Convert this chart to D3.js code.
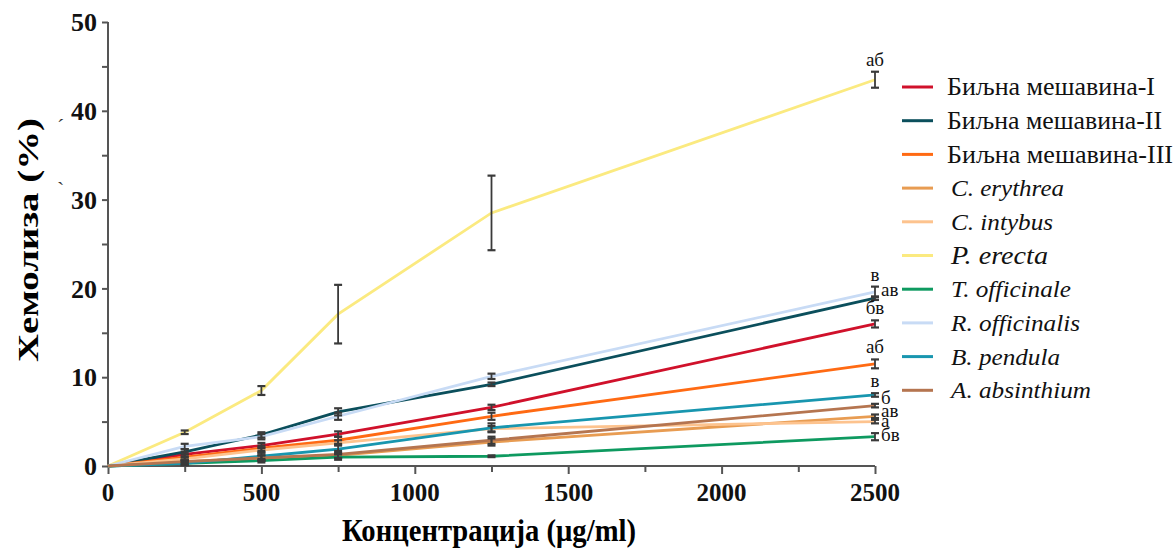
<!DOCTYPE html>
<html>
<head>
<meta charset="utf-8">
<script src="https://cdn.jsdelivr.net/npm/d3@7"></script>
<style>
  body { margin: 0; background: #fff; }
  svg text { font-family: "Liberation Serif", "DejaVu Serif", serif; }
  .axis path, .axis line { stroke: #555; stroke-width: 2; }
  .tickLbl { font-weight: bold; fill: #111; }
</style>
</head>
<body>
<script>
//concentrations and hemolysis values
var conc = [0, 250, 500, 750, 1250, 2500];

var seriesNames = ["Биљна мешавина-I", "Биљна мешавина-II", "Биљна мешавина-III",
	"C. erythrea", "C. intybus", "P. erecta", "T. officinale",
	"R. officinalis", "B. pendula", "A. absinthium"];

var mixI      = [0, 1.3, 2.3, 3.6, 6.6, 16.0];
var mixII     = [0, 1.6, 3.5, 6.1, 9.2, 18.9];
var mixIII    = [0, 1.0, 2.0, 2.9, 5.6, 11.5];
var erythrea  = [0, 0.5, 0.9, 1.2, 2.7, 5.6];
var intybus   = [0, 0.8, 1.8, 2.6, 4.2, 5.0];
var erecta    = [0, 3.8, 8.5, 17.1, 28.5, 43.5];
var officinale = [0, 0.3, 0.6, 1.0, 1.1, 3.3];
var officinalis = [0, 2.2, 3.3, 5.6, 10.1, 19.6];
var pendula   = [0, 0.3, 1.1, 1.9, 4.3, 8.0];
var absinthium = [0, 0.5, 0.9, 1.3, 2.9, 6.8];

//standard deviations (error bars)
var errMixI      = [0, 0.3, 0.3, 0.3, 0.3, 0.4];
var errMixII     = [0, 0.3, 0.3, 0.4, 0.2, 0.2];
var errMixIII    = [0, 0.3, 0.3, 0.4, 0.4, 0.5];
var errErythrea  = [0, 0.2, 0.3, 0.3, 0.4, 0.2];
var errIntybus   = [0, 0.2, 0.3, 0.3, 0.3, 0.2];
var errErecta    = [0, 0.2, 0.5, 3.3, 4.2, 0.9];
var errOfficinale = [0, 0.2, 0.2, 0.3, 0.1, 0.4];
var errOfficinalis = [0, 0.3, 0.3, 0.4, 0.3, 0.6];
var errPendula   = [0, 0.2, 0.4, 0.5, 0.5, 0.2];
var errAbsinthium = [0, 0.2, 0.3, 0.4, 0.4, 0.2];

//significance letters at 2500
var letters = ["бв", "ав", "аб", "ав", "а", "аб", "бв", "в", "в", "б"];

var colors = ["#d0112b", "#0b4f5c", "#ff6a13", "#e89c52", "#fdc38e",
	"#fbea80", "#0e9a60", "#c8dbf5", "#1896af", "#b57550"];

var yTicks = [0, 10, 20, 30, 40, 50];
var xTicks = [0, 500, 1000, 1500, 2000, 2500];

var values = [mixI, mixII, mixIII, erythrea, intybus, erecta, officinale, officinalis, pendula, absinthium];
var errors = [errMixI, errMixII, errMixIII, errErythrea, errIntybus, errErecta, errOfficinale, errOfficinalis, errPendula, errAbsinthium];

//layout bits: where each letter sits, nudges, how wide each legend text is drawn
var letterSide = ["top", "right", "top", "right", "right", "top", "right", "top", "top", "right"];
var letterDy   = [0, -3, 0, 0, 4, 0, 3, 0, 0, -3];
var legendTextW = [208, 215, 226, 113, 102, 97, 120, 129, 109, 140];

var series = seriesNames.map(function(name, i){
	return {name: name, color: colors[i], letter: letters[i], side: letterSide[i], dy: letterDy[i],
		pts: conc.map(function(c, j){ return {x: c, y: values[i][j], e: errors[i][j]}; })};
});

var W = 1174, H = 548;
var mLeft = 108, mTop = 22, plotW = 767, plotH = 444;

var svg = d3.select("body").append("svg")
	.attr("width", W).attr("height", H);

var x = d3.scaleLinear().domain([0, 2500]).range([mLeft, mLeft + plotW]);
var y = d3.scaleLinear().domain([0, 50]).range([mTop + plotH, mTop]);

//axes
var xAxisG = svg.append("g").attr("class", "axis")
	.attr("transform", "translate(0," + (mTop + plotH) + ")")
	.call(d3.axisBottom(x).tickValues(d3.range(0, 2501, 250)).tickSize(7).tickFormat(""));
xAxisG.select(".domain").attr("d", "M" + mLeft + ",0H" + (mLeft + plotW));
xAxisG.selectAll(".tick line").attr("y2", function(d){ return d % 500 === 0 ? 8 : 6; });

var yAxisG = svg.append("g").attr("class", "axis")
	.attr("transform", "translate(" + mLeft + ",0)")
	.call(d3.axisLeft(y).tickValues(d3.range(0, 51, 5)).tickSize(6).tickFormat(""));
yAxisG.select(".domain").attr("d", "M0," + (mTop + plotH) + "V" + mTop);

svg.selectAll(".yLbl").data(yTicks).enter().append("text")
	.attr("class", "tickLbl")
	.style("font-size", "26px")
	.attr("x", mLeft - 11).attr("y", function(d){ return y(d); })
	.attr("dy", "0.35em").attr("text-anchor", "end")
	.text(function(d){ return d; });

svg.selectAll(".xLbl").data(xTicks).enter().append("text")
	.attr("class", "tickLbl")
	.style("font-size", "25px")
	.attr("x", function(d){ return x(d); }).attr("y", mTop + plotH + 35)
	.attr("text-anchor", "middle")
	.text(function(d){ return d; });

//axis titles
svg.append("text")
	.attr("transform", "translate(38," + 240 + ") rotate(-90)")
	.attr("text-anchor", "middle")
	.attr("textLength", 244).attr("lengthAdjust", "spacingAndGlyphs")
	.style("font-weight", "bold").style("font-size", "30px")
	.text("Хемолиза (%)");

//two stray marks beside the y title
svg.append("text").attr("x", 57).attr("y", 134).style("font-size", "22px").attr("fill", "#333").text("ˊ");
svg.append("text").attr("x", 57).attr("y", 197).style("font-size", "22px").attr("fill", "#333").text("ˋ");

svg.append("text")
	.attr("x", 489).attr("y", 541)
	.attr("text-anchor", "middle")
	.attr("textLength", 294).attr("lengthAdjust", "spacingAndGlyphs")
	.style("font-weight", "bold").style("font-size", "31px")
	.text("Концентрација (μg/ml)");

//lines
var line = d3.line().x(function(d){ return x(d.x); }).y(function(d){ return y(d.y); });

svg.selectAll(".series").data(series).enter().append("path")
	.attr("class", "series")
	.attr("d", function(d){ return line(d.pts); })
	.attr("fill", "none")
	.attr("stroke", function(d){ return d.color; })
	.attr("stroke-width", 2.8);

//error bars
var eb = svg.append("g");
series.forEach(function(s){
	s.pts.forEach(function(p){
		if (p.x === 0) return;
		var cx = x(p.x), y1 = y(p.y + p.e), y2 = y(p.y - p.e);
		eb.append("line").attr("x1", cx).attr("x2", cx).attr("y1", y1).attr("y2", y2)
			.attr("stroke", "#3a3a3a").attr("stroke-width", 1.8);
		[y1, y2].forEach(function(yy){
			eb.append("line").attr("x1", cx - 4).attr("x2", cx + 4).attr("y1", yy).attr("y2", yy)
				.attr("stroke", "#3a3a3a").attr("stroke-width", 2.2);
		});
	});
});

//letters
series.forEach(function(s){
	var last = s.pts[s.pts.length - 1];
	var lx = x(last.x), ly = y(last.y);
	var t = svg.append("text").style("font-size", "19px").attr("fill", "#111").text(s.letter);
	if (s.side === "top") {
		t.attr("x", lx).attr("y", y(last.y + last.e) - 6).attr("text-anchor", "middle");
	} else {
		t.attr("x", lx + 6).attr("y", ly + 1 + s.dy);
	}
});

//legend
var legend = svg.append("g").attr("transform", "translate(902,87)");
var rows = legend.selectAll("g").data(series).enter().append("g")
	.attr("transform", function(d, i){ return "translate(0," + (i * 33.7) + ")"; });
rows.append("line").attr("x1", 0).attr("x2", 31).attr("y1", 0).attr("y2", 0)
	.attr("stroke", function(d){ return d.color; }).attr("stroke-width", 3);
rows.append("text")
	.attr("x", function(d, i){ return i < 3 ? 45 : 49; }).attr("dy", "0.33em")
	.attr("textLength", function(d, i){ return legendTextW[i]; })
	.attr("lengthAdjust", "spacingAndGlyphs")
	.style("font-size", function(d, i){ return i === 5 ? "26px" : (i < 3 ? "25px" : "24px"); })
	.style("font-style", function(d, i){ return i < 3 ? "normal" : "italic"; })
	.attr("fill", "#111")
	.text(function(d){ return d.name; });
</script>
</body>
</html>
